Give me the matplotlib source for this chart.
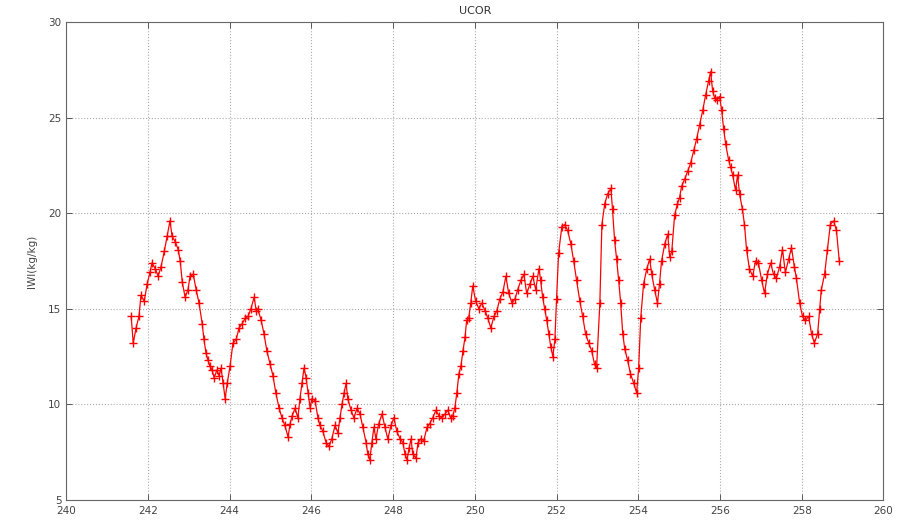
import numpy as np
import matplotlib.pyplot as plt

# day of year / IWI values
day = [
    241.59, 241.64, 241.71, 241.78, 241.83, 241.91, 241.98, 242.05, 242.10, 242.18,
    242.25, 242.32, 242.40, 242.47, 242.54, 242.59, 242.67, 242.74, 242.79, 242.84,
    242.91, 242.98, 243.03, 243.11, 243.18, 243.25, 243.33, 243.37, 243.42, 243.47,
    243.52, 243.57, 243.62, 243.69, 243.74, 243.79, 243.84, 243.89, 243.94, 244.01,
    244.08, 244.16, 244.23, 244.30, 244.38, 244.45, 244.52, 244.60, 244.65, 244.69,
    244.77, 244.84, 244.91, 244.99, 245.06, 245.13, 245.21, 245.28, 245.35, 245.43,
    245.48, 245.53, 245.60, 245.67, 245.72, 245.77, 245.82, 245.87, 245.92, 245.97,
    246.01, 246.09, 246.16, 246.21, 246.28, 246.36, 246.43, 246.50, 246.58, 246.65,
    246.70, 246.75, 246.80, 246.85, 246.89, 246.97, 247.04, 247.12, 247.19, 247.26,
    247.34, 247.38, 247.43, 247.48, 247.53, 247.58, 247.65, 247.73, 247.80, 247.87,
    247.95, 248.02, 248.09, 248.17, 248.24, 248.29, 248.34, 248.39, 248.44, 248.48,
    248.56, 248.61, 248.68, 248.75, 248.83, 248.90, 248.97, 249.05, 249.12, 249.19,
    249.27, 249.34, 249.41, 249.46, 249.51, 249.56, 249.61, 249.66, 249.71, 249.76,
    249.80, 249.85, 249.90, 249.95, 250.02, 250.10, 250.17, 250.25, 250.32, 250.39,
    250.47, 250.54, 250.61, 250.69, 250.76, 250.83, 250.91, 250.98, 251.05, 251.13,
    251.20, 251.27, 251.35, 251.42, 251.49, 251.57, 251.61, 251.66, 251.71, 251.76,
    251.81, 251.86, 251.91, 251.96, 252.00, 252.05, 252.13, 252.20, 252.27, 252.35,
    252.42, 252.49, 252.57, 252.64, 252.71, 252.79, 252.86, 252.93, 252.98, 253.06,
    253.11, 253.18, 253.25, 253.33, 253.37, 253.42, 253.47, 253.52, 253.57, 253.62,
    253.67, 253.74, 253.81, 253.89, 253.96, 254.01, 254.06, 254.13, 254.21, 254.28,
    254.33, 254.40, 254.47, 254.52, 254.57, 254.65, 254.72, 254.77, 254.82, 254.89,
    254.96, 255.01, 255.06, 255.14, 255.21, 255.28, 255.36, 255.43, 255.50, 255.58,
    255.65, 255.72, 255.77, 255.82, 255.87, 255.92, 255.99, 256.04, 256.09, 256.14,
    256.21, 256.26, 256.31, 256.38, 256.43, 256.48, 256.55, 256.60, 256.65, 256.72,
    256.80, 256.87, 256.94, 257.02, 257.09, 257.16, 257.24, 257.31, 257.38, 257.46,
    257.53, 257.60, 257.68, 257.75, 257.82, 257.87, 257.95, 258.02, 258.09, 258.17,
    258.24, 258.31, 258.39, 258.44, 258.48, 258.56, 258.63, 258.70, 258.78, 258.85,
    258.92,
]
iwi = [
    14.6, 13.2, 14.0, 14.6, 15.7, 15.4, 16.3, 16.9, 17.4, 17.1,
    16.7, 17.2, 18.0, 18.8, 19.6, 18.8, 18.5, 18.1, 17.5, 16.4,
    15.6, 16.0, 16.7, 16.8, 16.0, 15.3, 14.2, 13.4, 12.7, 12.3,
    12.0, 11.8, 11.4, 11.8, 11.5, 11.9, 11.1, 10.3, 11.1, 12.0,
    13.2, 13.4, 14.0, 14.2, 14.5, 14.6, 15.0, 15.6, 14.9, 15.0,
    14.4, 13.7, 12.8, 12.1, 11.5, 10.6, 9.8, 9.3, 8.9, 8.3,
    9.0, 9.4, 9.8, 9.3, 10.3, 11.1, 11.9, 11.4, 10.6, 9.8,
    10.3, 10.2, 9.3, 8.9, 8.6, 8.0, 7.8, 8.2, 8.9, 8.5,
    9.3, 10.0, 10.6, 11.1, 10.3, 9.7, 9.3, 9.8, 9.5, 8.8,
    8.0, 7.4, 7.1, 8.0, 8.8, 8.2, 9.0, 9.5, 8.8, 8.2,
    8.9, 9.3, 8.6, 8.2, 8.0, 7.4, 7.1, 7.7, 8.2, 7.4,
    7.2, 8.0, 8.2, 8.1, 8.8, 9.0, 9.3, 9.7, 9.4, 9.3,
    9.5, 9.7, 9.3, 9.4, 9.8, 10.6, 11.6, 12.0, 12.8, 13.5,
    14.4, 14.5, 15.3, 16.2, 15.4, 15.0, 15.3, 14.9, 14.5, 14.0,
    14.6, 14.9, 15.5, 15.9, 16.7, 15.8, 15.3, 15.5, 16.0, 16.5,
    16.8, 15.8, 16.3, 16.7, 16.0, 17.1, 16.5, 15.6, 15.0, 14.4,
    13.7, 13.0, 12.5, 13.4, 15.5, 17.9, 19.3, 19.4, 19.1, 18.4,
    17.5, 16.5, 15.4, 14.6, 13.7, 13.2, 12.8, 12.1, 11.9, 15.3,
    19.4, 20.5, 21.0, 21.3, 20.2, 18.6, 17.6, 16.5, 15.3, 13.7,
    12.9, 12.3, 11.6, 11.1, 10.6, 11.9, 14.5, 16.3, 17.1, 17.6,
    16.8, 16.0, 15.3, 16.3, 17.5, 18.4, 18.9, 17.7, 18.0, 19.9,
    20.5, 20.8, 21.4, 21.8, 22.2, 22.6, 23.3, 23.9, 24.6, 25.4,
    26.2, 26.9, 27.4, 26.4, 26.0, 25.9, 26.1, 25.4, 24.4, 23.6,
    22.8, 22.4, 22.0, 21.2, 22.0, 21.0, 20.2, 19.4, 18.1, 17.1,
    16.7, 17.5, 17.4, 16.5, 15.8, 16.8, 17.4, 16.8, 16.6, 17.2,
    18.1, 16.9, 17.6, 18.2, 17.2, 16.6, 15.3, 14.6, 14.4, 14.6,
    13.7, 13.2, 13.7, 15.0, 16.0, 16.8, 18.1, 19.4, 19.6, 19.1,
    17.5,
]

xticks = np.arange(240, 261, 2)
yticks = np.arange(5, 31, 5)

fig = plt.figure(figsize=(9.07, 5.23), dpi=100)
ax = fig.add_axes([0.073, 0.044, 0.901, 0.914])

ax.plot(day, iwi, color="red", linewidth=0.9, marker="+", markersize=6,
        markeredgewidth=1.0)

ax.set_xlim(240, 260)
ax.set_ylim(5, 30)
ax.set_xticks(xticks)
ax.set_yticks(yticks)
ax.tick_params(direction="in", top=True, right=True, labelsize=7.5,
               colors="#444444", length=4, width=0.6)
ax.tick_params(axis="x", pad=4)
ax.grid(True, linestyle=":", color="#aaaaaa", linewidth=0.8)
for sp in ax.spines.values():
    sp.set_color("#666666")
    sp.set_linewidth(0.8)

ax.set_title("UCOR", fontsize=8, color="#333333", pad=6)
ax.set_ylabel("IWI(kg/kg)", fontsize=7.5, color="#444444", labelpad=8)

fig.savefig("out.png", dpi=100)
